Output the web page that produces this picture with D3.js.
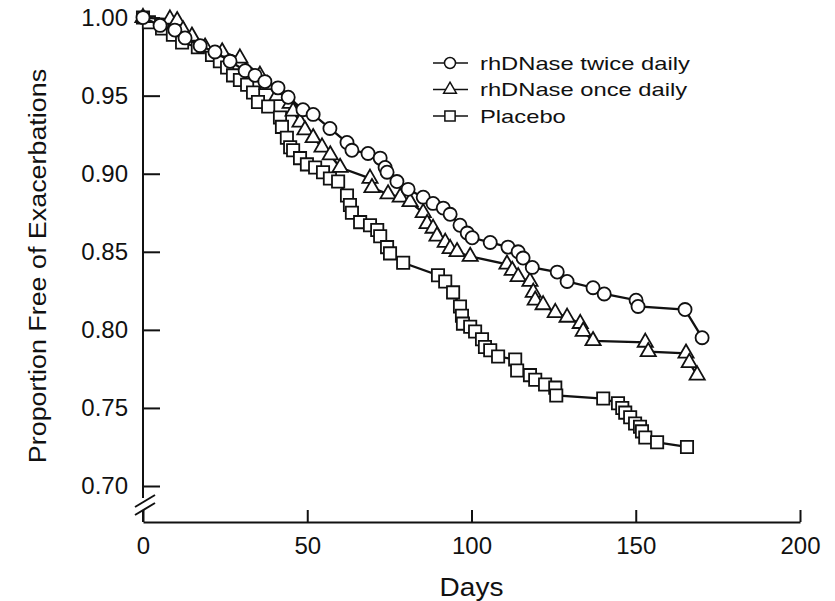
<!DOCTYPE html>
<html>
<head>
<meta charset="utf-8">
<script src="https://cdn.jsdelivr.net/npm/d3@7"></script>
<style>
  body { margin: 0; background: #fff; }
  text { font-family: "Liberation Sans", Arial, sans-serif; fill: #111; }
</style>
</head>
<body>
<div class="chart"></div>
<script>
// [day, proportion free of exacerbations]
const twiceDaily = [[0,1.000],[5.2,0.995],[9.7,0.992],[12.8,0.987],[17.4,0.982],[21.9,0.978],[26.5,0.972],[31.1,0.966],[34.1,0.963],[37.1,0.959],[41.1,0.955],[44.2,0.949],[48.7,0.941],[51.8,0.938],[56.9,0.929],[62.1,0.920],[63.6,0.915],[68.5,0.913],[72.2,0.910],[73.7,0.904],[74.3,0.901],[77.3,0.895],[80.7,0.890],[85.3,0.885],[88.3,0.881],[91.4,0.878],[93.5,0.874],[96.5,0.867],[98.7,0.862],[100.2,0.859],[105.7,0.856],[111.1,0.853],[114.2,0.850],[115.7,0.846],[118.5,0.840],[126.1,0.837],[129.1,0.831],[137.0,0.827],[140.4,0.823],[150.1,0.819],[150.7,0.815],[165.0,0.813],[170.2,0.795]];

const onceDaily = [[0,1.000],[8.2,0.999],[10.4,0.998],[12.2,0.992],[14.9,0.988],[18.9,0.981],[24.1,0.978],[29.5,0.974],[35.6,0.963],[37.8,0.957],[40.8,0.950],[44.8,0.945],[45.7,0.940],[47.8,0.933],[49.3,0.928],[51.8,0.923],[54.5,0.917],[57.0,0.912],[60.0,0.904],[69.1,0.897],[69.7,0.891],[74.6,0.887],[78.3,0.885],[81.3,0.882],[85.3,0.875],[86.5,0.868],[88.3,0.865],[89.5,0.860],[92.0,0.856],[93.5,0.852],[95.6,0.850],[99.6,0.847],[110.8,0.842],[112.4,0.838],[114.2,0.834],[117.8,0.831],[118.8,0.824],[119.4,0.819],[121.8,0.816],[125.5,0.811],[129.1,0.808],[133.1,0.804],[134.0,0.799],[137.0,0.793],[152.9,0.792],[153.8,0.786],[165.3,0.785],[166.3,0.779],[168.7,0.771]];

const placebo = [[0,1.000],[1.8,0.997],[5.8,0.993],[9.1,0.989],[11.9,0.984],[16.7,0.981],[21.0,0.976],[23.4,0.972],[25.6,0.968],[27.4,0.963],[29.5,0.960],[31.7,0.957],[33.5,0.952],[35.0,0.946],[38.1,0.943],[41.7,0.936],[42.3,0.930],[43.8,0.923],[44.8,0.917],[45.7,0.915],[47.8,0.910],[49.9,0.906],[52.4,0.904],[54.8,0.901],[56.9,0.897],[59.4,0.895],[62.1,0.886],[63.0,0.880],[63.6,0.875],[66.1,0.869],[69.1,0.867],[71.3,0.864],[72.2,0.860],[74.3,0.853],[75.2,0.849],[79.2,0.843],[89.8,0.835],[92.0,0.831],[94.4,0.824],[96.5,0.815],[97.1,0.809],[97.4,0.804],[99.6,0.802],[101.1,0.799],[103.2,0.794],[104.1,0.789],[105.7,0.787],[108.1,0.783],[113.3,0.781],[113.9,0.774],[117.8,0.771],[119.4,0.768],[122.4,0.765],[125.5,0.763],[125.8,0.758],[140.1,0.756],[144.6,0.753],[145.9,0.750],[146.8,0.747],[148.3,0.744],[149.8,0.740],[151.3,0.738],[151.9,0.735],[152.9,0.731],[156.5,0.728],[165.6,0.725]];

const seriesNames = ["rhDNase twice daily", "rhDNase once daily", "Placebo"];
const xTicks = [0, 50, 100, 150, 200];
const yTicks = [0.70, 0.75, 0.80, 0.85, 0.90, 0.95, 1.00];

const width = 835, height = 601;
const x0 = 143, x1 = 800, yAxisBase = 522;

const svg = d3.select(".chart").append("svg")
    .attr("width", width)
    .attr("height", height);

const xScale = d3.scaleLinear().domain([0, 200]).range([x0, x1]);
const yScale = d3.scaleLinear().domain([0.70, 1.00]).range([486, 17.6]);

const ink = "#111";

// x axis
svg.append("g")
    .attr("transform", `translate(0,${yAxisBase})`)
    .call(d3.axisBottom(xScale).tickValues(xTicks).tickFormat(d3.format("d"))
        .tickSizeInner(-12).tickSizeOuter(0).tickPadding(15))
    .call(g => g.select(".domain").attr("stroke", ink).attr("stroke-width", 2))
    .call(g => g.selectAll(".tick line").attr("stroke", ink).attr("stroke-width", 2))
    .call(g => g.selectAll(".tick text").attr("font-size", 24).attr("fill", ink)
        .attr("font-family", "Liberation Sans, Arial, sans-serif"));

// y axis, drawn with a break just above the x axis
svg.append("g")
    .attr("transform", `translate(${x0},0)`)
    .call(d3.axisLeft(yScale).tickValues(yTicks).tickFormat(d3.format(".2f"))
        .tickSizeInner(-17).tickSizeOuter(0).tickPadding(15))
    .call(g => g.select(".domain").remove())
    .call(g => g.selectAll(".tick line").attr("stroke", ink).attr("stroke-width", 2))
    .call(g => g.selectAll(".tick text").attr("font-size", 24).attr("fill", ink)
        .attr("font-family", "Liberation Sans, Arial, sans-serif"));

svg.append("line")
    .attr("x1", x0).attr("x2", x0)
    .attr("y1", yScale(1.00) - 1).attr("y2", 498)
    .attr("stroke", ink).attr("stroke-width", 2);
svg.append("line")
    .attr("x1", x0).attr("x2", x0)
    .attr("y1", 511).attr("y2", yAxisBase)
    .attr("stroke", ink).attr("stroke-width", 2);
// break marks
[0, 8].forEach(o => {
    svg.append("line")
        .attr("x1", x0 - 8).attr("y1", 507 + o)
        .attr("x2", x0 + 12).attr("y2", 495 + o)
        .attr("stroke", ink).attr("stroke-width", 2);
});

// axis titles
svg.append("text")
    .attr("x", xScale(100)).attr("y", 587)
    .attr("dy", "0.35em")
    .attr("text-anchor", "middle")
    .attr("font-size", 25)
    .attr("transform", `translate(${xScale(100)},0) scale(1.12,1) translate(${-xScale(100)},0)`)
    .text("Days");

svg.append("text")
    .attr("transform", "translate(38,266) rotate(-90) scale(1.12,1)")
    .attr("dy", "0.35em")
    .attr("text-anchor", "middle")
    .attr("font-size", 24)
    .text("Proportion Free of Exacerbations");

// curves
const symbols = [d3.symbolCircle, d3.symbolTriangle, d3.symbolSquare];
const symSizes = [135, 100, 150];
const data = [twiceDaily, onceDaily, placebo];

const line = d3.line()
    .x(d => xScale(d[0]))
    .y(d => yScale(d[1]));

[2, 1, 0].forEach(i => {
    const g = svg.append("g");
    g.append("path")
        .datum(data[i])
        .attr("fill", "none")
        .attr("stroke", ink)
        .attr("stroke-width", 2.3)
        .attr("d", line);
    g.selectAll("path.m")
        .data(data[i])
        .join("path")
        .attr("class", "m")
        .attr("transform", d => `translate(${xScale(d[0])},${yScale(d[1])})`)
        .attr("d", d3.symbol(symbols[i], symSizes[i]))
        .attr("fill", "#fff")
        .attr("stroke", ink)
        .attr("stroke-width", 1.8);
});

// legend
const legend = svg.append("g")
    .selectAll("g")
    .data(seriesNames)
    .join("g")
    .attr("transform", (d, i) => `translate(433,${63 + i * 26.5})`);

legend.append("line")
    .attr("x1", 0).attr("x2", 35)
    .attr("stroke", ink).attr("stroke-width", 1.6);
legend.append("path")
    .attr("transform", "translate(17,0)")
    .attr("d", (d, i) => d3.symbol(symbols[i], symSizes[i] * 0.7)())
    .attr("fill", "#fff")
    .attr("stroke", ink)
    .attr("stroke-width", 1.5);
legend.append("text")
    .attr("transform", "translate(47,0) scale(1.25,1)")
    .attr("dy", "0.35em")
    .attr("font-size", 19)
    .text(d => d);
</script>
</body>
</html>
